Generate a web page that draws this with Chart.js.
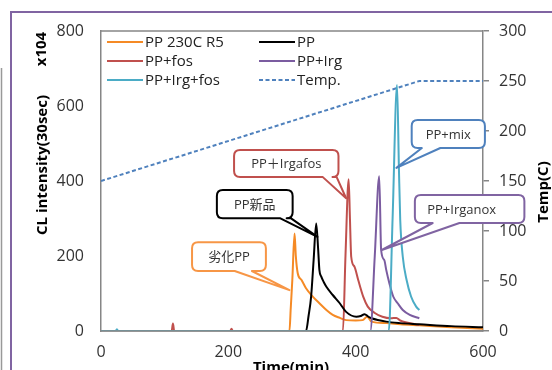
<!DOCTYPE html>
<html>
<head>
<meta charset="utf-8">
<script src="https://cdn.jsdelivr.net/npm/chart.js@4"></script>
<style>
  body { margin: 0; background: #fff; }
  #wrap { width: 552px; height: 370px; }
</style>
</head>
<body>
<div id="wrap"><canvas id="myChart" width="552" height="370"></canvas></div>
<script>
// time (min) / CL intensity (x104)
var orangeT = [0, 296, 298, 300.5, 304, 306, 309, 315, 322, 333, 343, 354, 364, 375, 385, 400, 411, 418, 425, 448, 470, 500, 550, 600];
var orangeV = [0, 0, 60, 136, 260, 200, 154, 136, 114, 91, 74, 56, 43, 35, 29, 28, 29, 38, 25, 21, 18, 15, 10, 6];

var blackT = [0, 322, 326, 330, 334, 338, 341, 343, 346, 350, 354, 364, 375, 385, 401, 408, 414, 420, 425, 448, 470, 500, 550, 600];
var blackV = [0, 0, 40, 91, 190, 287, 220, 163, 145, 130, 118, 96, 74, 51, 38, 40, 45, 38, 34, 25, 21, 18, 13, 10];

var redT = [0, 111, 113, 115, 203, 205, 207, 380, 384, 389, 391, 393, 398, 404, 412, 419, 430, 442, 455, 464, 470, 500];
var redV = [0, 0, 20, 0, 0, 6, 0, 0, 200, 405, 300, 198, 172, 136, 91, 65, 48, 38, 34, 35, 28, 16];

var purpleT = [0, 423, 430, 437, 440, 445, 448, 453, 459, 466, 474, 485, 500];
var purpleV = [0, 0, 200, 413, 216, 189, 163, 127, 92, 74, 56, 43, 34];

var cyanT = [0, 23, 25, 27, 452, 458, 465, 468, 470, 474, 480, 487, 495, 500];
var cyanV = [0, 0, 5, 0, 0, 300, 656, 429, 296, 198, 136, 92, 65, 56];

var tempT = [0, 500, 600];
var tempV = [150, 250, 250];

var xTicks = [0, 200, 400, 600];
var labels = ['PP 230C R5', 'PP', 'PP+fos', 'PP+Irg', 'PP+Irg+fos', 'Temp.'];
var colors = ['#F58A25', '#000000', '#C0504D', '#7B5CA0', '#4BACC6', '#4F81BD'];

// callouts: text, box [t1, v1, t2, v2], tail base [t1, t2], tip [t, v], colour
var notes = [
    { text: '劣化PP', box: [143, 237, 259, 160], base: [210, 237], tip: [296, 109], color: '#F79646' },
    { text: 'PP新品', box: [182, 376, 301, 301], base: [281, 298], tip: [340, 251], color: '#000000' },
    { text: 'PP＋Irgafos', box: [209, 483, 373, 411], base: [348, 370], tip: [385, 354], color: '#C0504D' },
    { text: 'PP+mix', box: [488, 563, 603, 488], base: [504, 533], tip: [464, 435], color: '#4F81BD' },
    { text: 'PP+Irganox', box: [493, 363, 665, 288], base: [521, 563], tip: [441, 216], color: '#8064A2' }
];

function pts(t, v) {
    return t.map(function (x, i) { return { x: x, y: v[i] }; });
}

var FONT = '"Open Sans", "Noto Sans CJK JP", sans-serif';

var extras = {
    id: 'extras',
    beforeDraw: function (chart) {
        var c = chart.ctx;
        c.save();
        c.fillStyle = '#fff';
        c.fillRect(0, 0, chart.width, chart.height);
        // outer frame pieces
        c.strokeStyle = '#8064A2';
        c.lineWidth = 2;
        c.beginPath();
        c.moveTo(11, 370);
        c.lineTo(11, 12);
        c.lineTo(552, 12);
        c.stroke();
        c.strokeStyle = '#999';
        c.lineWidth = 1.5;
        c.beginPath();
        c.moveTo(1.5, 68);
        c.lineTo(1.5, 370);
        c.stroke();
        c.restore();
    },
    afterDatasetsDraw: function (chart) {
        var c = chart.ctx;
        var a = chart.chartArea;
        var xs = chart.scales.x, ys = chart.scales.y;
        c.save();
        // plot area border, drawn over the zero lines
        c.strokeStyle = '#868686';
        c.lineWidth = 1.5;
        c.beginPath();
        c.moveTo(a.left, a.top);
        c.lineTo(a.right, a.top);
        c.moveTo(a.left, a.bottom);
        c.lineTo(a.right, a.bottom);
        c.stroke();

        // legend
        c.font = '15px ' + FONT;
        c.textBaseline = 'middle';
        c.textAlign = 'left';
        labels.forEach(function (lab, i) {
            var col = i % 2, row = Math.floor(i / 2);
            var x0 = col === 0 ? 107 : 259;
            var y0 = 42 + row * 19;
            c.strokeStyle = colors[i];
            c.lineWidth = 2;
            c.setLineDash(i === 5 ? [4, 2.5] : []);
            c.beginPath();
            c.moveTo(x0, y0);
            c.lineTo(x0 + 36, y0);
            c.stroke();
            c.setLineDash([]);
            c.fillStyle = '#222';
            c.fillText(lab, x0 + 38, y0 + 1);
        });

        // callouts
        notes.forEach(function (n) {
            var L = xs.getPixelForValue(n.box[0]), T = ys.getPixelForValue(n.box[1]);
            var R = xs.getPixelForValue(n.box[2]), B = ys.getPixelForValue(n.box[3]);
            var b1 = xs.getPixelForValue(n.base[0]), b2 = xs.getPixelForValue(n.base[1]);
            var tx = xs.getPixelForValue(n.tip[0]), ty = ys.getPixelForValue(n.tip[1]);
            var r = 6;
            c.beginPath();
            c.moveTo(L + r, T);
            c.lineTo(R - r, T);
            c.quadraticCurveTo(R, T, R, T + r);
            c.lineTo(R, B - r);
            c.quadraticCurveTo(R, B, R - r, B);
            c.lineTo(b2, B);
            c.lineTo(tx, ty);
            c.lineTo(b1, B);
            c.lineTo(L + r, B);
            c.quadraticCurveTo(L, B, L, B - r);
            c.lineTo(L, T + r);
            c.quadraticCurveTo(L, T, L + r, T);
            c.closePath();
            c.fillStyle = '#fff';
            c.fill();
            c.strokeStyle = n.color;
            c.lineWidth = 2;
            c.lineJoin = 'round';
            c.stroke();
            c.fillStyle = '#333';
            c.font = '13px ' + FONT;
            c.textAlign = 'center';
            c.textBaseline = 'middle';
            c.fillText(n.text, (L + R) / 2 - (n.text === 'PP+Irganox' ? 8 : 0), (T + B) / 2 + 1);
        });

        // axis titles
        c.fillStyle = '#000';
        c.font = 'bold 15px ' + FONT;
        c.textAlign = 'center';
        c.textBaseline = 'alphabetic';
        c.fillText('Time(min)', 291, 372);
        c.textBaseline = 'middle';
        c.save();
        c.translate(43, 165);
        c.rotate(-Math.PI / 2);
        c.fillText('CL intensity(30sec)', 0, 0);
        c.restore();
        c.save();
        c.translate(42, 49);
        c.rotate(-Math.PI / 2);
        c.fillText('x104', 0, 0);
        c.restore();
        c.save();
        c.translate(544, 192);
        c.rotate(-Math.PI / 2);
        c.fillText('Temp(C)', 0, 0);
        c.restore();
        c.restore();
    }
};

var line = function (label, t, v, color, axis, dash) {
    return {
        label: label,
        data: pts(t, v),
        borderColor: color,
        backgroundColor: color,
        borderWidth: 2,
        borderDash: dash || [],
        pointRadius: 0,
        fill: false,
        cubicInterpolationMode: dash ? 'default' : 'monotone',
        tension: 0,
        yAxisID: axis
    };
};

var ctx = document.getElementById('myChart').getContext('2d');
var myChart = new Chart(ctx, {
    type: 'line',
    data: {
        datasets: [
            line(labels[4], cyanT, cyanV, colors[4], 'y'),
            line(labels[3], purpleT, purpleV, colors[3], 'y'),
            line(labels[1], blackT, blackV, colors[1], 'y'),
            line(labels[2], redT, redV, colors[2], 'y'),
            line(labels[0], orangeT, orangeV, colors[0], 'y'),
            line(labels[5], tempT, tempV, colors[5], 'y2', [4, 2.5])
        ]
    },
    options: {
        responsive: false,
        animation: false,
        layout: { padding: { top: 31, left: 0, right: 0, bottom: 0 } },
        plugins: {
            legend: { display: false },
            tooltip: { enabled: false }
        },
        scales: {
            x: {
                type: 'linear',
                min: 0,
                max: 600,
                afterBuildTicks: function (s) { s.ticks = xTicks.map(function (v) { return { value: v }; }); },
                afterFit: function (s) { s.height = 39; },
                grid: { display: false, drawTicks: false },
                border: { color: '#868686', width: 1.5 },
                ticks: { padding: 12, color: '#333', font: { size: 16, family: FONT }, maxRotation: 0 }
            },
            y: {
                position: 'left',
                min: 0,
                max: 800,
                afterFit: function (s) { s.width = 101; },
                grid: { display: false, drawTicks: false },
                border: { color: '#868686', width: 1.5 },
                ticks: { stepSize: 200, padding: 17, color: '#333', font: { size: 16, family: FONT } }
            },
            y2: {
                position: 'right',
                min: 0,
                max: 300,
                afterFit: function (s) { s.width = 69; },
                grid: { drawOnChartArea: false, drawTicks: true, tickLength: 6, color: '#868686', lineWidth: 1.5 },
                border: { color: '#868686', width: 1.5 },
                ticks: { stepSize: 50, padding: 10, color: '#333', font: { size: 16, family: FONT } }
            }
        }
    },
    plugins: [extras]
});
</script>
</body>
</html>
